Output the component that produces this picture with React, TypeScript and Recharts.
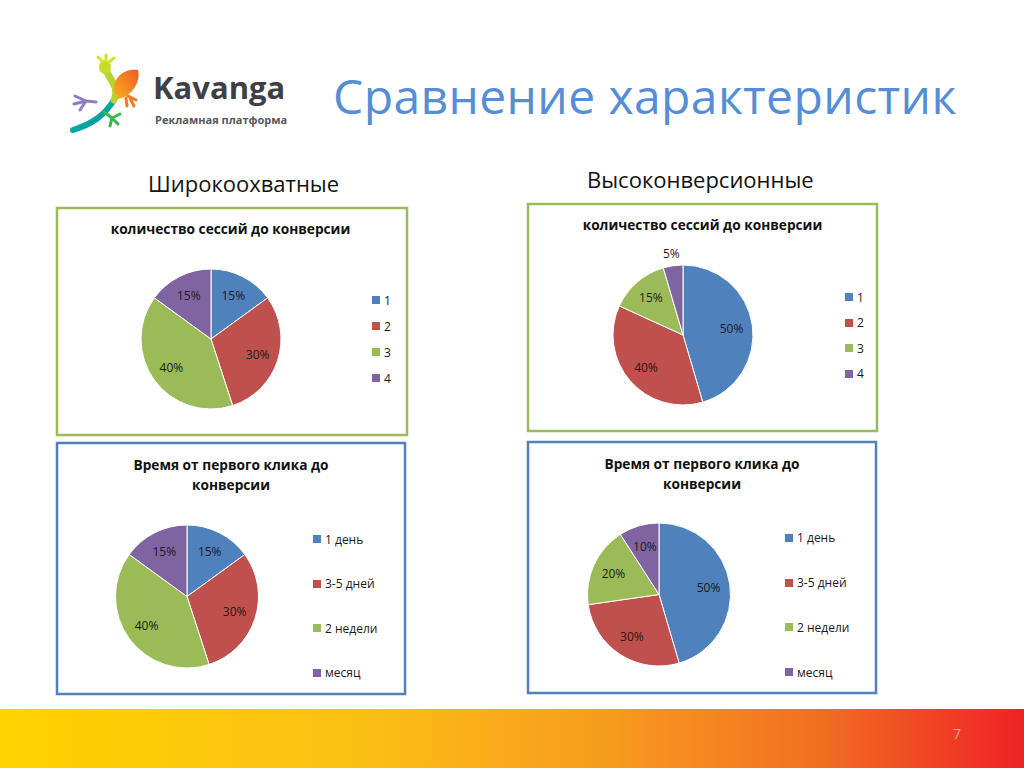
import React from 'react';
import { PieChart, Pie, Cell, Legend } from 'recharts';

// categories
const sessionLabels = ['1', '2', '3', '4'];
const timeLabels = ['1 день', '3-5 дней', '2 недели', 'месяц'];

// series values (percent as written on the slide)
const sessionsBroad = [15, 30, 40, 15];
const sessionsConv = [50, 40, 15, 5];
const timeBroad = [15, 30, 40, 15];
const timeConv = [50, 30, 20, 10];

const colors = ['#4F81BD', '#C0504D', '#9BBB59', '#8064A2'];

const FONT = '"Open Sans", "Noto Sans", sans-serif';
const RAD = Math.PI / 180;

const toRows = (names: string[], values: number[]) =>
  names.map((name, i) => ({ name, value: values[i] }));

const renderLabel = (props: any) => {
  const { cx, cy, midAngle, outerRadius, percent, value } = props;
  const r = percent < 0.06 ? outerRadius + 12 : outerRadius * 0.7;
  const x = cx + r * Math.cos(-midAngle * RAD);
  const y = cy + r * Math.sin(-midAngle * RAD);
  return (
    <text
      x={x}
      y={y}
      textAnchor="middle"
      dominantBaseline="central"
      fontSize={12}
      fontFamily={FONT}
      fill="#1a1a1a"
    >
      {`${value}%`}
    </text>
  );
};

// legend keeps the order of the data, not alphabetical
const legendContent = (gap: number, names: string[]) => (props: any) => {
  const items = [...(props.payload || [])].sort(
    (a: any, b: any) => names.indexOf(a.value) - names.indexOf(b.value)
  );
  return (
    <div>
      {items.map((e: any, i: number) => (
        <div
          key={i}
          style={{
            display: 'flex',
            alignItems: 'center',
            height: gap,
            fontSize: 12,
            fontFamily: FONT,
            color: '#1a1a1a',
            whiteSpace: 'nowrap',
          }}
        >
          <span
            style={{
              width: 8,
              height: 8,
              background: e.color,
              marginRight: 4,
              display: 'inline-block',
            }}
          />
          <span>{e.value}</span>
        </div>
      ))}
    </div>
  );
};

interface PanelProps {
  x: number;
  y: number;
  w: number;
  h: number;
  names: string[];
  values: number[];
  cx: number;
  cy: number;
  r: number;
  legendX: number;
  legendY: number;
  gap: number;
}

function PiePanel(p: PanelProps) {
  const data = toRows(p.names, p.values);
  return (
    <div style={{ position: 'absolute', left: p.x, top: p.y }}>
      <PieChart width={p.w} height={p.h} margin={{ top: 0, right: 0, bottom: 0, left: 0 }}>
        <Pie
          data={data}
          dataKey="value"
          nameKey="name"
          cx={p.cx - p.x}
          cy={p.cy - p.y}
          outerRadius={p.r}
          startAngle={90}
          endAngle={-270}
          stroke="#ffffff"
          strokeWidth={1}
          label={renderLabel}
          labelLine={false}
          isAnimationActive={false}
        >
          {data.map((d, i) => (
            <Cell key={d.name} fill={colors[i]} />
          ))}
        </Pie>
        <Legend
          layout="vertical"
          align="right"
          verticalAlign="middle"
          content={legendContent(p.gap, p.names)}
          wrapperStyle={{
            left: p.legendX - p.x,
            top: p.legendY - p.y - p.gap / 2,
            right: 'auto',
            bottom: 'auto',
            width: 90,
          }}
        />
      </PieChart>
    </div>
  );
}

function Logo() {
  return (
    <g>
      <defs>
        <linearGradient id="tailG" x1="0" y1="0" x2="1" y2="1">
          <stop offset="0" stopColor="#8DC63F" />
          <stop offset="0.5" stopColor="#00A99D" />
          <stop offset="1" stopColor="#2E7FB8" />
        </linearGradient>
        <linearGradient id="bodyG" x1="0" y1="1" x2="1" y2="0">
          <stop offset="0" stopColor="#F7B21D" />
          <stop offset="1" stopColor="#F15A24" />
        </linearGradient>
      </defs>
      {/* tail */}
      <path d="M114 100 C 104 116, 92 124, 73 130" stroke="url(#tailG)" strokeWidth={6} fill="none" strokeLinecap="round" />
      {/* neck/spine */}
      <path d="M106 70 C 110 80, 120 88, 114 100" stroke="#B5D334" strokeWidth={7} fill="none" strokeLinecap="round" />
      {/* head */}
      <ellipse cx={105} cy={67} rx={6} ry={7} fill="#C8DA2B" />
      <path d="M103 62 L98 57 M106 61 L106 55 M109 62 L114 58" stroke="#D7E02A" strokeWidth={3} strokeLinecap="round" />
      {/* orange body */}
      <path d="M114 92 C 112 76, 126 68, 138 70 C 141 82, 132 96, 118 99 Z" fill="url(#bodyG)" />
      <path d="M128 96 L136 100 M130 98 L134 106 M126 98 L127 106" stroke="#F47B20" strokeWidth={3} strokeLinecap="round" />
      {/* purple foot */}
      <path d="M96 102 L86 101 M86 101 L75 96 M86 101 L74 104 M86 101 L80 110" stroke="#8F7CC4" strokeWidth={3} strokeLinecap="round" />
      {/* green feet */}
      <path d="M104 112 L112 118 M112 118 L120 114 M112 118 L118 124 M112 118 L110 126" stroke="#39B54A" strokeWidth={3} strokeLinecap="round" />
      <text x={153} y={99} fontFamily={FONT} fontWeight={700} fontSize={31} fill="#3F3F48">
        Kavanga
      </text>
      <text x={155} y={124} fontFamily={FONT} fontWeight={700} fontSize={11} fill="#55575E">
        Рекламная платформа
      </text>
    </g>
  );
}

export default function App() {
  return (
    <div
      style={{
        position: 'absolute',
        left: 0,
        top: 0,
        width: 1024,
        height: 768,
        background: '#ffffff',
        overflow: 'hidden',
        fontFamily: FONT,
      }}
    >
      <svg width={1024} height={768} style={{ position: 'absolute', left: 0, top: 0 }}>
        <defs>
          <linearGradient id="footG" x1="0" y1="0" x2="1" y2="0">
            <stop offset="0" stopColor="#FFD200" />
            <stop offset="0.35" stopColor="#FCC015" />
            <stop offset="0.6" stopColor="#F79A1E" />
            <stop offset="0.8" stopColor="#F26F21" />
            <stop offset="1" stopColor="#EE2125" />
          </linearGradient>
        </defs>
        <Logo />
        <text x={333} y={114} fontFamily={FONT} fontSize={48} letterSpacing={0.4} fill="#558ED5">
          Сравнение характеристик
        </text>
        <text x={148} y={192} fontFamily={FONT} fontSize={22} fill="#111">
          Широкоохватные
        </text>
        <text x={587} y={188} fontFamily={FONT} fontSize={22} fill="#111">
          Высоконверсионные
        </text>

        <rect x={57} y={208} width={350} height={227} fill="none" stroke="#9BBB59" strokeWidth={2.5} />
        <rect x={528} y={204} width={349} height={227} fill="none" stroke="#9BBB59" strokeWidth={2.5} />
        <rect x={57} y={443} width={348} height={251} fill="none" stroke="#4F81BD" strokeWidth={2.5} />
        <rect x={528} y={442} width={348} height={251} fill="none" stroke="#4F81BD" strokeWidth={2.5} />

        <g fontFamily={FONT} fontWeight={700} fontSize={13.7} fill="#111" textAnchor="middle">
          <text x={230.5} y={234}>количество сессий до конверсии</text>
          <text x={702.5} y={230}>количество сессий до конверсии</text>
          <text x={231} y={470}>Время от первого клика до</text>
          <text x={231} y={490}>конверсии</text>
          <text x={702} y={469}>Время от первого клика до</text>
          <text x={702} y={489}>конверсии</text>
        </g>

        <rect x={0} y={709} width={1024} height={59} fill="url(#footG)" />
        <text x={957} y={739} fontFamily={FONT} fontSize={14} fill="#F6A58A" textAnchor="middle">
          7
        </text>
      </svg>

      <PiePanel x={60} y={245} w={345} h={188} names={sessionLabels} values={sessionsBroad}
        cx={211} cy={339} r={70} legendX={372} legendY={300} gap={26} />
      <PiePanel x={531} y={241} w={344} h={188} names={sessionLabels} values={sessionsConv}
        cx={683} cy={335} r={70} legendX={845} legendY={297} gap={25.5} />
      <PiePanel x={60} y={500} w={343} h={192} names={timeLabels} values={timeBroad}
        cx={187} cy={596.5} r={71.5} legendX={313} legendY={539} gap={44.5} />
      <PiePanel x={531} y={499} w={343} h={192} names={timeLabels} values={timeConv}
        cx={659} cy={594.5} r={71.5} legendX={785} legendY={538} gap={44.7} />
    </div>
  );
}
